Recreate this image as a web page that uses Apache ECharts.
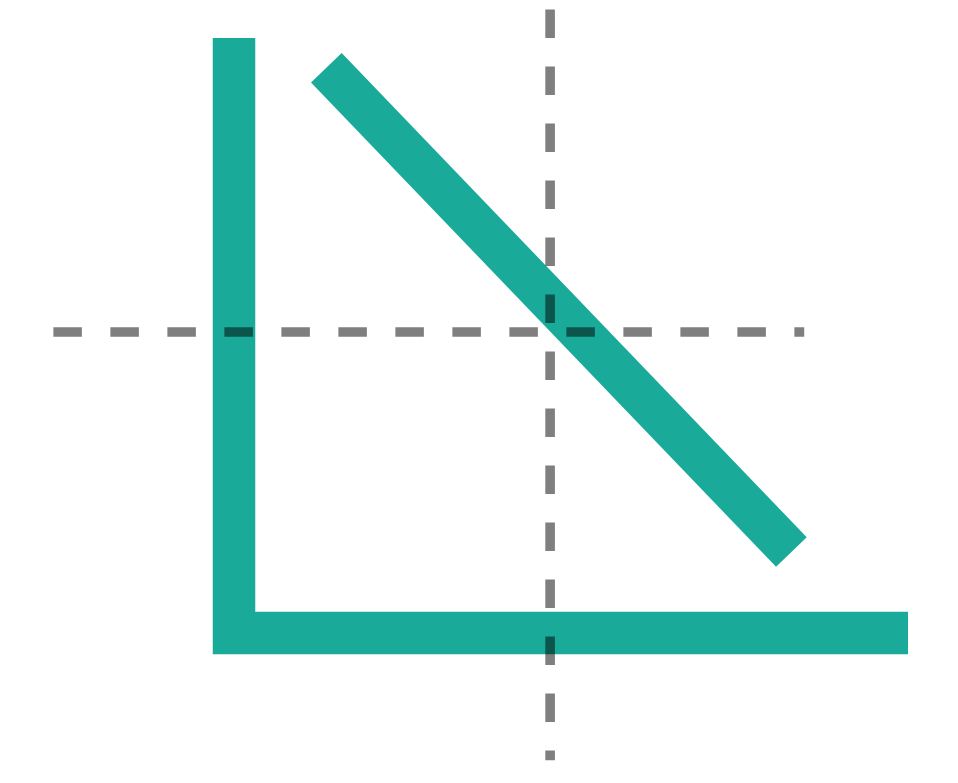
<!DOCTYPE html>
<html>
<head>
<meta charset="utf-8">
<style>
  html, body { margin: 0; padding: 0; background: #ffffff; }
  #chart { width: 958px; height: 783px; }
</style>
<script src="https://cdn.jsdelivr.net/npm/echarts@6/dist/echarts.min.js"></script>
</head>
<body>
<div id="chart"></div>
<script>
// Data (in axis units; the L-shaped frame spans 0..100 on both axes)
const axisFrame = [[0, 100], [0, 0], [100, 0]];
const trendLine = [[13.7, 95.0], [82.7, 13.6]];
const verticalGuide = [[46.9, 104.8], [46.9, -21.4]];
const horizontalGuide = [[-26.8, 50.6], [84.6, 50.6]];

// Axis extents (hidden axes)
const xRange = [-34.72, 107.42];
const yRange = [-25.21, 106.39];

const teal = '#19aa99';
const guideColor = 'rgba(0,0,0,0.5)';

const chart = echarts.init(document.getElementById('chart'), null, { renderer: 'canvas' });

function lineSeries(data, color, width, type, z) {
  return {
    type: 'line',
    data: data,
    symbol: 'none',
    clip: false,
    silent: true,
    animation: false,
    z: z,
    lineStyle: { color: color, width: width, type: type, cap: 'butt', join: 'miter', miterLimit: 10 }
  };
}

chart.setOption({
  backgroundColor: '#ffffff',
  animation: false,
  grid: { left: 0, right: 0, top: 0, bottom: 0, containLabel: false },
  xAxis: { type: 'value', min: xRange[0], max: xRange[1], show: false },
  yAxis: { type: 'value', min: yRange[0], max: yRange[1], show: false },
  series: [
    lineSeries(axisFrame, teal, 42.5, 'solid', 2),
    lineSeries(trendLine, teal, 42.5, 'solid', 2),
    lineSeries(verticalGuide, guideColor, 9.6, [28.5, 28.5], 5),
    lineSeries(horizontalGuide, guideColor, 9.6, [28.5, 28.5], 5)
  ]
});
</script>
</body>
</html>
